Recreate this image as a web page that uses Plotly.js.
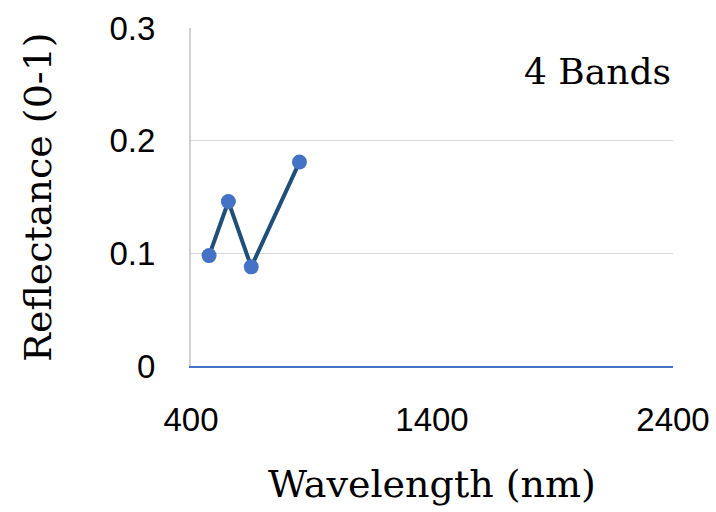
<!DOCTYPE html>
<html><head><meta charset="utf-8">
<script src="https://cdn.plot.ly/plotly-3.0.1.min.js"></script>
<style>body{margin:0;background:#fff}#c{width:716px;height:512px}</style>
</head><body><div id="c"></div>
<script>
const wavelengths = [475, 555, 650, 850];
const reflectance = [0.098, 0.146, 0.088, 0.181];
const xTicks = [400, 1400, 2400];
const yTicks = [0, 0.1, 0.2, 0.3];
const yTickText = ['0', '0.1', '0.2', '0.3'];

const trace = {
  x: wavelengths, y: reflectance, type: 'scatter', mode: 'lines+markers',
  line: {color: '#1f4e79', width: 4},
  marker: {color: '#4472c4', size: 15},
  showlegend: false
};
const layout = {
  width: 716, height: 512,
  margin: {l: 191, r: 43, t: 28, b: 146},
  paper_bgcolor: '#fff', plot_bgcolor: '#fff',
  xaxis: {
    range: [400, 2400], tickvals: xTicks, ticktext: xTicks.map(String),
    showgrid: false, zeroline: false, showline: true, linecolor: '#4472c4', linewidth: 2,
    ticks: '', ticklabelstandoff: 23,
    tickfont: {family: 'Liberation Sans, Arial, sans-serif', size: 33, color: '#000'},
    title: {text: 'Wavelength (nm)', standoff: 34,
      font: {family: 'DejaVu Serif, serif', size: 38, color: '#000'}}
  },
  yaxis: {
    range: [0, 0.3], tickvals: yTicks, ticktext: yTickText,
    showgrid: true, gridcolor: '#d9d9d9', gridwidth: 1.5, zeroline: false,
    showline: true, linecolor: '#d0d0d0', linewidth: 2,
    ticks: '', ticklabelstandoff: 27,
    tickfont: {family: 'Liberation Sans, Arial, sans-serif', size: 33, color: '#000'},
    title: {text: 'Reflectance (0-1)', standoff: 46,
      font: {family: 'DejaVu Serif, serif', size: 38, color: '#000'}}
  },
  annotations: [{
    text: '4 Bands', xref: 'paper', yref: 'paper', x: 1.0, y: 0.87,
    xanchor: 'right', yanchor: 'middle', showarrow: false,
    font: {family: 'DejaVu Serif, serif', size: 36, color: '#000'}
  }]
};
Plotly.newPlot('c', [trace], layout, {displayModeBar: false, staticPlot: true});
</script></body></html>
